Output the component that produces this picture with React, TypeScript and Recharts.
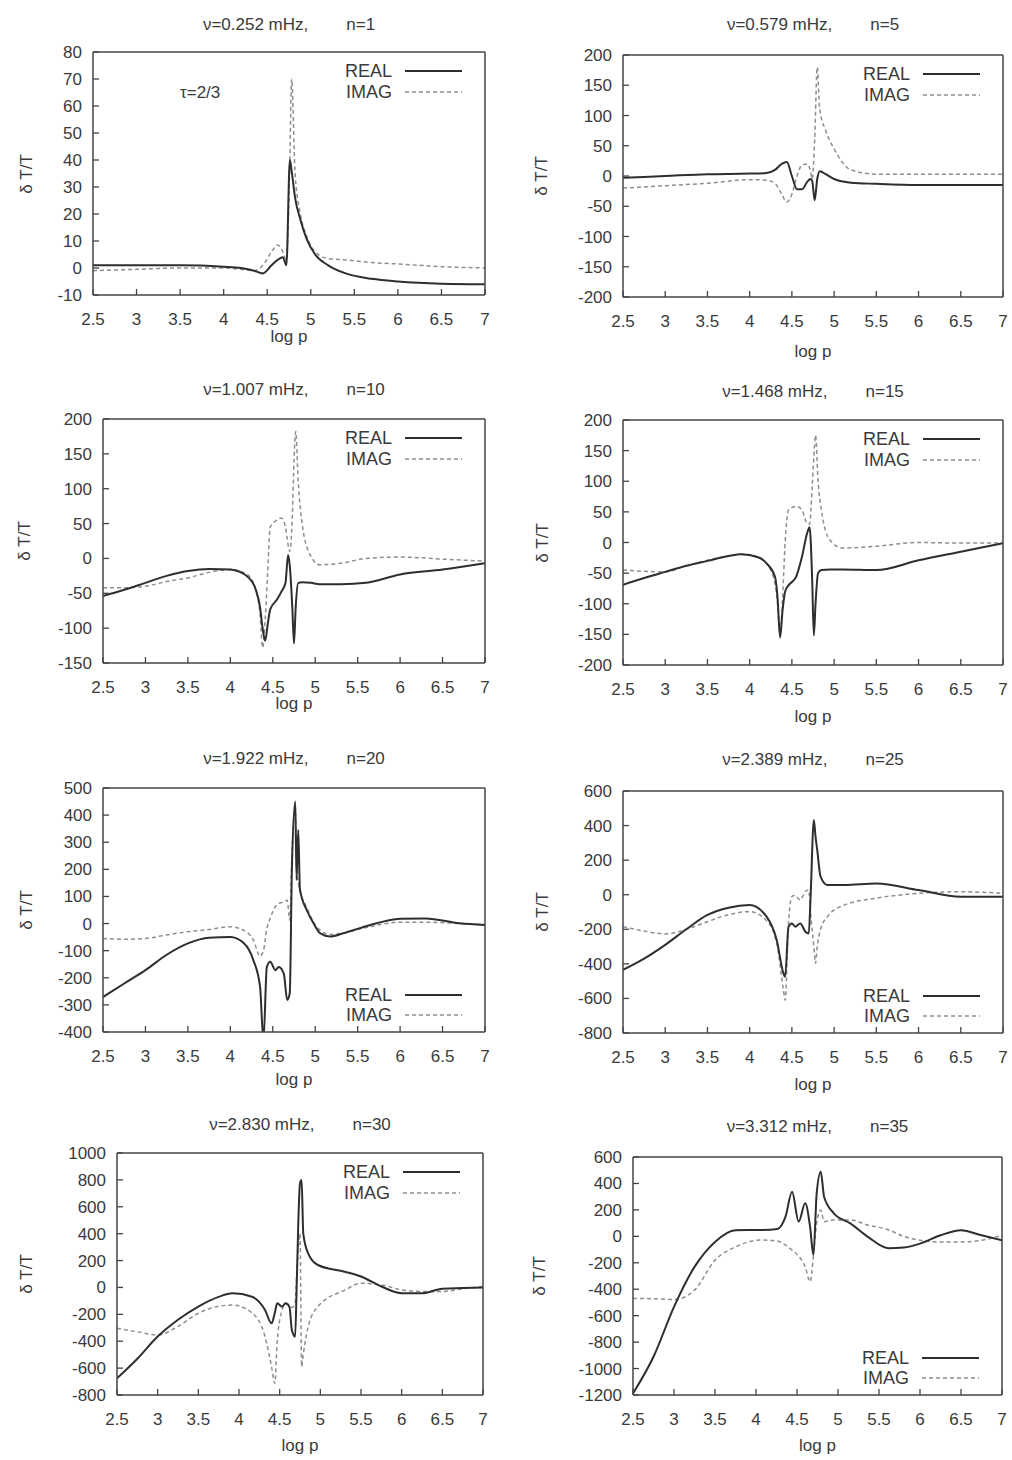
import React from 'react';
import { LineChart, Line, XAxis, YAxis } from 'recharts';

// ---------- data ----------
const xTicks = [2.5, 3, 3.5, 4, 4.5, 5, 5.5, 6, 6.5, 7];

const p1x = [2.5, 3, 3.5, 4, 4.2, 4.35, 4.45, 4.55, 4.62, 4.68, 4.72, 4.76, 4.78, 4.82, 4.88, 4.95, 5.05, 5.2, 5.4, 5.7, 6, 6.5, 7];
const p1re = [1, 1, 1, 0.5, 0, -1, -2, 1, 3, 4, 1, 40, 36, 26, 18, 11, 5, 1, -2, -4, -5, -5.8, -6];
const p1im = [-1, -0.5, 0, 0, -0.5, -1, 1, 6, 8.5, 6, 3, 40, 70, 35, 20, 12, 6, 3.5, 3, 2, 1.5, 0.5, 0];
const p1y = [80, 70, 60, 50, 40, 30, 20, 10, 0, -10];

const p2x = [2.5, 3, 3.5, 4, 4.2, 4.3, 4.38, 4.44, 4.5, 4.56, 4.62, 4.68, 4.72, 4.74, 4.77, 4.8, 4.83, 4.9, 5, 5.2, 5.5, 6, 6.5, 7];
const p2re = [-3, 0, 3, 4, 5, 10, 20, 23, 0, -22, -22, -10, -5, -8, -40, -5, 8, 3, -5, -11, -13, -15, -15, -15];
const p2im = [-20, -16, -12, -6, -7, -12, -30, -43, -30, 0, 18, 20, 8, -5, 60, 180, 110, 75, 45, 10, 3, 3, 3, 3];
const p2y = [200, 150, 100, 50, 0, -50, -100, -150, -200];

const p3x = [2.5, 2.75, 3, 3.25, 3.5, 3.75, 4, 4.2, 4.3, 4.35, 4.38, 4.41, 4.44, 4.47, 4.55, 4.6, 4.65, 4.68, 4.7, 4.73, 4.75, 4.77, 4.8, 4.85, 4.95, 5.05, 5.3, 5.6, 6, 6.5, 7];
const p3re = [-54, -45, -35, -25, -18, -15, -16, -26, -45, -70, -100, -118, -95, -73, -59, -48, -35, 5, -10, -70, -122, -70, -35, -34, -35, -37, -37, -35, -23, -16, -7];
const p3im = [-42, -42, -40, -33, -28, -20, -16, -23, -45, -80, -128, -90, -20, 45, 55, 58, 45, 20, 10, 60, 140, 182, 110, 46, 3, -9, -7, 0, 2, -1, -4];
const p3y = [200, 150, 100, 50, 0, -50, -100, -150];

const p4x = [2.5, 2.75, 3, 3.25, 3.5, 3.75, 3.9, 4.1, 4.2, 4.3, 4.33, 4.36, 4.39, 4.42, 4.46, 4.55, 4.62, 4.68, 4.71, 4.74, 4.76, 4.78, 4.81, 4.85, 4.95, 5.1, 5.5, 6, 6.5, 7];
const p4re = [-69, -58, -48, -38, -30, -22, -19, -24, -34, -56, -90, -155, -110, -80, -70, -56, -23, 15, 25, -60, -152, -100, -50, -45, -44, -44, -45, -29, -15, -1];
const p4im = [-45, -47, -48, -38, -29, -22, -19, -24, -34, -67, -100, -150, -90, 0, 53, 59, 53, 31, 30, 90, 140, 175, 100, 53, 4, -9, -6, 0, -1, -1];
const p4y = [200, 150, 100, 50, 0, -50, -100, -150, -200];

const p5x = [2.5, 2.75, 3, 3.25, 3.5, 3.75, 4, 4.16, 4.27, 4.35, 4.39, 4.43, 4.47, 4.53, 4.57, 4.63, 4.67, 4.7, 4.725, 4.765, 4.78, 4.8, 4.82, 4.9, 4.98, 5.06, 5.18, 5.33, 5.6, 6, 6.3, 6.7, 7];
const p5re = [-271, -221, -172, -115, -73, -52, -50, -73, -134, -233, -430, -160, -141, -172, -160, -185, -282, -257, 198, 450, 161, 345, 126, 50, 1, -36, -48, -36, -10, 18, 19, 1, -5];
const p5im = [-55, -58, -55, -42, -30, -22, -12, -25, -60, -120, -100, -20, 20, 62, 74, 80, 86, 13, 250, 440, 200, 150, 120, 60, 5, -25, -40, -35, -15, 5, 5, 0, -5];
const p5y = [500, 400, 300, 200, 100, 0, -100, -200, -300, -400];

const p6x = [2.5, 2.75, 3, 3.25, 3.5, 3.75, 4, 4.2, 4.32, 4.4, 4.42, 4.46, 4.5, 4.54, 4.6, 4.66, 4.7, 4.72, 4.76, 4.78, 4.8, 4.84, 4.92, 5.12, 5.5, 6, 6.5, 7];
const p6re = [-435, -370, -290, -200, -117, -75, -60, -127, -262, -455, -475, -185, -166, -185, -166, -214, -224, -31, 432, 336, 259, 104, 56, 56, 65, 27, -12, -12];
const p6im = [-185, -210, -227, -200, -156, -115, -98, -150, -280, -551, -610, -166, -10, -5, -31, 20, 27, -100, -300, -397, -300, -200, -127, -60, -20, 8, 17, 8];
const p6y = [600, 400, 200, 0, -200, -400, -600, -800];

const p7x = [2.5, 2.75, 3, 3.25, 3.5, 3.75, 3.92, 4.16, 4.32, 4.4, 4.44, 4.47, 4.53, 4.57, 4.62, 4.65, 4.69, 4.71, 4.73, 4.75, 4.77, 4.79, 4.85, 4.97, 5.3, 5.5, 5.75, 6, 6.25, 6.5, 6.75, 7];
const p7re = [-676, -530, -365, -240, -142, -70, -44, -69, -168, -267, -190, -118, -143, -118, -143, -317, -366, 30, 500, 775, 800, 403, 254, 167, 117, 81, 7, -43, -43, -10, -5, 0];
const p7im = [-303, -330, -353, -290, -192, -140, -131, -190, -366, -589, -713, -400, -168, -120, -130, -150, -118, 100, 300, 400, -589, -500, -292, -143, -20, 31, 19, -18, -30, -30, -10, 7];
const p7y = [1000, 800, 600, 400, 200, 0, -200, -400, -600, -800];

const p8x = [2.5, 2.75, 3, 3.25, 3.5, 3.75, 4.05, 4.26, 4.36, 4.44, 4.52, 4.6, 4.66, 4.7, 4.74, 4.79, 4.83, 4.95, 5.15, 5.36, 5.62, 5.8, 6, 6.25, 6.5, 6.75, 7];
const p8re = [-1188, -911, -533, -231, -42, 46, 48, 56, 149, 338, 111, 250, 70, -141, 325, 489, 300, 174, 98, -2, -91, -85, -55, 8, 46, 8, -29];
const p8im = [-470, -472, -478, -407, -180, -80, -28, -35, -66, -104, -150, -230, -343, -150, 100, 199, 111, 124, 124, 86, 48, 0, -29, -42, -42, -30, 8];
const p8y = [600, 400, 200, 0, -200, -400, -600, -800, -1000, -1200];

const freqs = ['ν=0.252 mHz,', 'ν=0.579 mHz,', 'ν=1.007 mHz,', 'ν=1.468 mHz,', 'ν=1.922 mHz,', 'ν=2.389 mHz,', 'ν=2.830 mHz,', 'ν=3.312 mHz,'];
const orders = ['n=1', 'n=5', 'n=10', 'n=15', 'n=20', 'n=25', 'n=30', 'n=35'];
const seriesNames = ['REAL', 'IMAG'];

// ---------- layout ----------
const FONT = '"Liberation Sans", Arial, sans-serif';
const TXT = '#3a3a3a';
const AX = '#444';
const RE_COL = '#2e2e2e';
const IM_COL = '#8e8e8e';

type Panel = {
  xs: number[]; re: number[]; im: number[]; yt: number[];
  box: [number, number, number, number];
  legend: 'top' | 'bottom';
  titleY: number; xlabY: number; ylabX: number;
};

const panels: Panel[] = [
  { xs: p1x, re: p1re, im: p1im, yt: p1y, box: [93, 52, 485, 295], legend: 'top', titleY: 25, xlabY: 337, ylabX: 27 },
  { xs: p2x, re: p2re, im: p2im, yt: p2y, box: [623, 55, 1003, 297], legend: 'top', titleY: 25, xlabY: 352, ylabX: 542 },
  { xs: p3x, re: p3re, im: p3im, yt: p3y, box: [103, 419, 485, 663], legend: 'top', titleY: 390, xlabY: 704, ylabX: 25 },
  { xs: p4x, re: p4re, im: p4im, yt: p4y, box: [623, 420, 1003, 665], legend: 'top', titleY: 392, xlabY: 717, ylabX: 543 },
  { xs: p5x, re: p5re, im: p5im, yt: p5y, box: [103, 788, 485, 1032], legend: 'bottom', titleY: 759, xlabY: 1080, ylabX: 27 },
  { xs: p6x, re: p6re, im: p6im, yt: p6y, box: [623, 791, 1003, 1033], legend: 'bottom', titleY: 760, xlabY: 1085, ylabX: 543 },
  { xs: p7x, re: p7re, im: p7im, yt: p7y, box: [117, 1153, 483, 1395], legend: 'top', titleY: 1125, xlabY: 1446, ylabX: 27 },
  { xs: p8x, re: p8re, im: p8im, yt: p8y, box: [633, 1157, 1002, 1395], legend: 'bottom', titleY: 1127, xlabY: 1446, ylabX: 540 },
];

const tickStyle = { fill: TXT, fontSize: 17, fontFamily: FONT };
const axisLine = { stroke: AX, strokeWidth: 1.5 };
const tickLine = { stroke: AX, strokeWidth: 1.3 };

function PanelChart({ p, idx }: { p: Panel; idx: number }) {
  const [L, T, R, B] = p.box;
  const ML = 80;
  const W = R - L + ML + 10;
  const H = B - T + 10 + 40;
  const rows = p.xs.map((x, i) => ({ x, re: p.re[i], im: p.im[i] }));
  const yMin = p.yt[p.yt.length - 1];
  const yMax = p.yt[0];
  const legRows = p.legend === 'top' ? [T + 19, T + 40] : [B - 37, B - 17];
  const textStyle: React.CSSProperties = { position: 'absolute', whiteSpace: 'pre', fontFamily: FONT, fontSize: 17, color: TXT, lineHeight: '18px' };
  return (
    <>
      <div style={{ position: 'absolute', left: L - ML, top: T - 10, width: W, height: H }}>
        <LineChart width={W} height={H} data={rows} margin={{ top: 9, right: 9, bottom: 0, left: 0 }}>
          <XAxis dataKey="x" type="number" domain={[2.5, 7]} ticks={xTicks} allowDataOverflow
            height={40} tickSize={-6} tickMargin={24} tick={tickStyle} interval={0}
            axisLine={axisLine} tickLine={tickLine} />
          <XAxis xAxisId="top" orientation="top" dataKey="x" type="number" domain={[2.5, 7]} ticks={xTicks} allowDataOverflow
            height={1} tickSize={-6} tick={false} interval={0}
            axisLine={axisLine} tickLine={tickLine} />
          <YAxis type="number" domain={[yMin, yMax]} ticks={p.yt} allowDataOverflow width={ML}
            tickSize={-6} tickMargin={17} tick={tickStyle} interval={0}
            axisLine={axisLine} tickLine={tickLine} />
          <YAxis yAxisId="right" orientation="right" type="number" domain={[yMin, yMax]} ticks={p.yt} allowDataOverflow width={1}
            tickSize={-6} tick={false} interval={0}
            axisLine={axisLine} tickLine={tickLine} />
          <Line xAxisId="top" yAxisId="right" type="linear" dataKey="re" stroke="transparent" strokeWidth={0} dot={false} activeDot={false} isAnimationActive={false} legendType="none" />
          <Line type="monotone" dataKey="im" stroke={IM_COL} strokeWidth={1.5} strokeDasharray="4 3" dot={false} isAnimationActive={false} />
          <Line type="monotone" dataKey="re" stroke={RE_COL} strokeWidth={2} dot={false} isAnimationActive={false} />
        </LineChart>
      </div>
      <div style={{ ...textStyle, left: (L + R) / 2, top: p.titleY - 9, transform: 'translateX(-50%)' }}>
        <span>{freqs[idx]}</span>
        <span style={{ marginLeft: 38 }}>{orders[idx]}</span>
      </div>
      <div style={{ ...textStyle, left: (L + R) / 2, top: p.xlabY - 9, transform: 'translateX(-50%)' }}>log p</div>
      <div style={{ ...textStyle, left: p.ylabX, top: (T + B) / 2, transform: 'translate(-50%, -50%) rotate(-90deg)' }}>δ T/T</div>
      {seriesNames.map((name, k) => (
        <React.Fragment key={name}>
          <div style={{ ...textStyle, fontSize: 18, left: R - 193, width: 100, textAlign: 'right', top: legRows[k] - 9 }}>{name}</div>
          <svg style={{ position: 'absolute', left: R - 80, top: legRows[k] - 3 }} width={58} height={6}>
            <line x1={0} y1={3} x2={57} y2={3} stroke={k === 0 ? RE_COL : IM_COL} strokeWidth={k === 0 ? 2 : 1.5} strokeDasharray={k === 0 ? undefined : '4 3'} />
          </svg>
        </React.Fragment>
      ))}
      {idx === 0 && (
        <div style={{ ...textStyle, left: 180, top: 84 }}>τ=2/3</div>
      )}
    </>
  );
}

export default function App() {
  return (
    <div style={{ position: 'absolute', left: 0, top: 0, width: 1012, height: 1460, background: '#fff' }}>
      {panels.map((p, i) => <PanelChart key={i} p={p} idx={i} />)}
    </div>
  );
}
